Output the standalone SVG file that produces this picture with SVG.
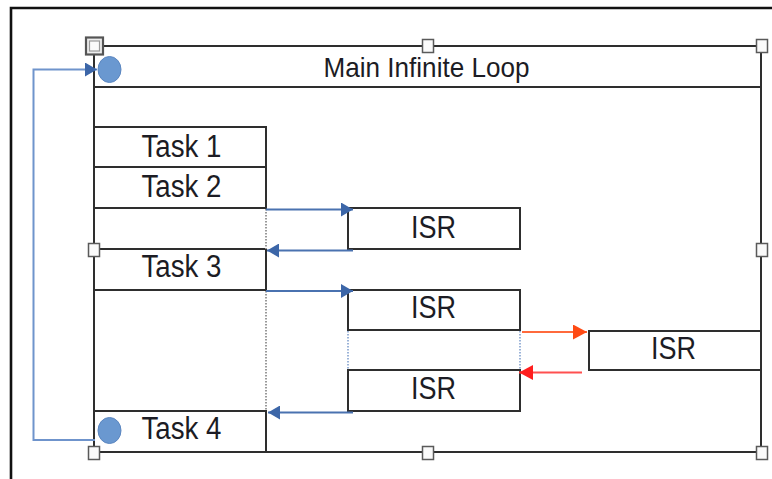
<svg xmlns="http://www.w3.org/2000/svg" width="772" height="479" viewBox="0 0 772 479">
<defs>
<style>
.ln{stroke:#2e2e2e;stroke-width:2;fill:none}
.t{font-family:"Liberation Sans",Arial,sans-serif;font-size:31px;fill:#1c1c24;text-anchor:middle}
.h{fill:#fafafa;stroke:#5a5a5a;stroke-width:1.5}
.bl{stroke:#4a72b0;stroke-width:2;fill:none}
.lp{stroke:#6f94cc;stroke-width:2;fill:none}
.dg{stroke:#999999;stroke-width:2;stroke-dasharray:1.5 1.5;fill:none}
.db{stroke:#9bb3d8;stroke-width:2;stroke-dasharray:1.5 1.5;fill:none}
.c{fill:#6a98d0;stroke:#5b86c0;stroke-width:1}
</style>
<marker id="ab" markerWidth="12" markerHeight="14" refX="12" refY="7" orient="auto" markerUnits="userSpaceOnUse"><path d="M0,0 L12,7 L0,14 Z" fill="#3c66a8"/></marker>
<marker id="ao" markerWidth="14" markerHeight="15" refX="14" refY="7.5" orient="auto" markerUnits="userSpaceOnUse"><path d="M0,0 L14,7.5 L0,15 Z" fill="#ff4a14"/></marker>
<marker id="ar" markerWidth="14" markerHeight="15" refX="14" refY="7.5" orient="auto" markerUnits="userSpaceOnUse"><path d="M0,0 L14,7.5 L0,15 Z" fill="#ff1e1e"/></marker>
</defs>
<rect width="772" height="479" fill="#ffffff"/>
<path d="M11,479 V8 H772" stroke="#111" stroke-width="2.6" fill="none"/>

<g id="main-loop">
<rect x="94" y="46" width="667" height="406" class="ln"/>
<line x1="94" y1="87" x2="761" y2="87" class="ln"/>
<text x="426.5" y="77" class="t" style="font-size:28px" textLength="206" lengthAdjust="spacingAndGlyphs">Main Infinite Loop</text>
</g>

<g id="task1">
<path d="M94,127 H266 V167" class="ln"/>
<text x="181.5" y="157" class="t" textLength="80" lengthAdjust="spacingAndGlyphs">Task 1</text>
</g>
<g id="task2">
<path d="M94,167 H266 V208 H94" class="ln"/>
<text x="181.5" y="197" class="t" textLength="80" lengthAdjust="spacingAndGlyphs">Task 2</text>
</g>
<g id="task3">
<path d="M94,249 H266 V290 H94" class="ln"/>
<text x="181.5" y="277" class="t" textLength="80" lengthAdjust="spacingAndGlyphs">Task 3</text>
</g>
<g id="task4">
<path d="M94,411 H266 V452" class="ln"/>
<text x="181.5" y="439" class="t" textLength="80" lengthAdjust="spacingAndGlyphs">Task 4</text>
</g>

<g id="isr1">
<path d="M348,208 H520 V249 H348 Z" class="ln"/>
<text x="433.5" y="238" class="t" textLength="45" lengthAdjust="spacingAndGlyphs">ISR</text>
</g>
<g id="isr2">
<path d="M348,290 H520 V330 H348 Z" class="ln"/>
<text x="433.5" y="318" class="t" textLength="45" lengthAdjust="spacingAndGlyphs">ISR</text>
</g>
<g id="isr3">
<path d="M348,370 H520 V411 H348 Z" class="ln"/>
<text x="433.5" y="399" class="t" textLength="45" lengthAdjust="spacingAndGlyphs">ISR</text>
</g>
<g id="isr4">
<path d="M761,331 H589 V370 H761" class="ln"/>
<text x="673.5" y="359" class="t" textLength="45" lengthAdjust="spacingAndGlyphs">ISR</text>
</g>

<g id="connectors">
<line x1="266" y1="209" x2="266" y2="249" class="dg"/>
<line x1="266" y1="291" x2="266" y2="411" class="dg"/>
<line x1="348" y1="331" x2="348" y2="370" class="db"/>
<line x1="520" y1="331" x2="520" y2="370" class="db"/>
<line x1="266" y1="209.5" x2="353" y2="209.5" class="bl" marker-end="url(#ab)"/>
<line x1="353" y1="250.5" x2="267" y2="250.5" class="bl" marker-end="url(#ab)"/>
<line x1="266" y1="291" x2="353" y2="291" class="bl" marker-end="url(#ab)"/>
<line x1="353" y1="412.5" x2="268" y2="412.5" class="bl" marker-end="url(#ab)"/>
<line x1="522" y1="332" x2="587" y2="332" stroke="#ff6a3c" stroke-width="2" marker-end="url(#ao)"/>
<line x1="582" y1="372.5" x2="519" y2="372.5" stroke="#ff5050" stroke-width="2" marker-end="url(#ar)"/>
<path d="M95,440 H33.5 V69.5 H97" class="lp" marker-end="url(#ab)"/>
<ellipse cx="109.5" cy="69.5" rx="11.5" ry="13" class="c"/>
<ellipse cx="109.5" cy="430.5" rx="11.5" ry="13" class="c"/>
</g>

<g id="handles">
<rect x="86" y="37.5" width="17" height="17" fill="#eeeeee" stroke="#555555" stroke-width="2.2"/>
<rect x="89.5" y="41" width="10" height="10" fill="#fafafa" stroke="#9a9a9a" stroke-width="1.2"/>
<rect x="422.5" y="39.5" width="11" height="13" class="h"/>
<rect x="756.5" y="39.5" width="11" height="13" class="h"/>
<rect x="88.5" y="243.5" width="11" height="13" class="h"/>
<rect x="756.5" y="243.5" width="11" height="13" class="h"/>
<rect x="88.5" y="446.5" width="11" height="13" class="h"/>
<rect x="422.5" y="446.5" width="11" height="13" class="h"/>
<rect x="756.5" y="446.5" width="11" height="13" class="h"/>
</g>
</svg>
